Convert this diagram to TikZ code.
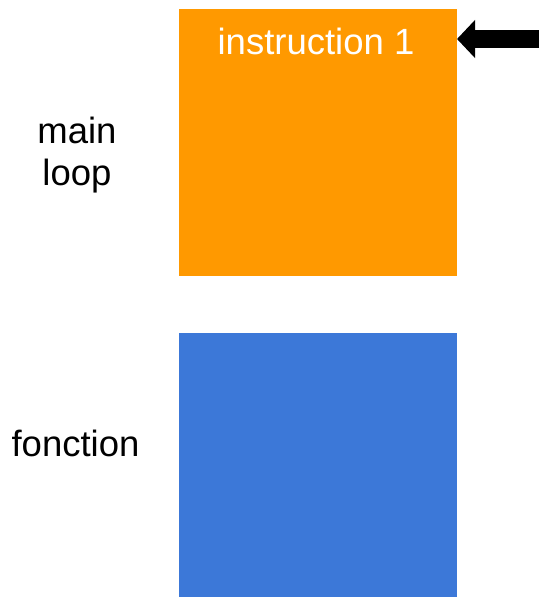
\documentclass[tikz,border=0pt]{standalone}
\usepackage{fontspec}
\setmainfont{Liberation Sans}
\usetikzlibrary{arrows.meta}
\definecolor{boxorange}{HTML}{FF9900}
\definecolor{boxblue}{HTML}{3C78D8}
\begin{document}
\begin{tikzpicture}[x=1pt,y=-1pt,
  block/.style={inner sep=0pt, outer sep=0pt, anchor=north west, minimum width=278pt},
  lbl/.style={font=\fontsize{36.5}{42}\selectfont, inner sep=0pt, align=center},
  pointer/.style={line width=18.5pt, -{Triangle[length=18pt,width=37pt]}}]
\useasboundingbox (0,0) rectangle (539,597);
\node[block, fill=boxorange, minimum height=266.7pt] (main) at (179,9) {};
\node[block, fill=boxblue, minimum height=264pt] (fn) at (179,333) {};
\node[lbl, text=white, anchor=base] (instr) at (316,54.3) {instruction 1};
\node[lbl, anchor=center] (mlabel) at (77,155) {main\\loop};
\node[lbl, anchor=base] (flabel) at (75.5,456.7) {fonction};
\coordinate (src) at (539,39);
\draw[pointer] (src) -- (main.east |- src);
\end{tikzpicture}
\end{document}
